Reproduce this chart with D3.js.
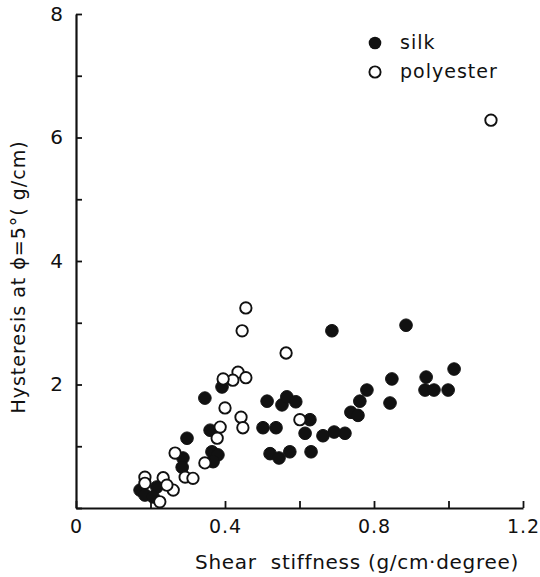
<!DOCTYPE html>
<html>
<head>
<meta charset="utf-8">
<script src="https://cdn.jsdelivr.net/npm/d3@7"></script>
<style>
  html, body { margin: 0; padding: 0; background: #fff; }
  svg { display: block; }
  text { font-family: "DejaVu Sans", sans-serif; fill: #111; }
</style>
</head>
<body>
<svg id="chart" width="540" height="577"></svg>
<script>
// ---- data ----
const silkX = [0.687, 0.886, 1.015, 0.940, 0.937, 0.961, 0.999, 0.848, 0.843, 0.781,
               0.762, 0.738, 0.757, 0.722, 0.693, 0.663, 0.615, 0.628, 0.631, 0.521,
               0.545, 0.574, 0.502, 0.537, 0.513, 0.553, 0.566, 0.590, 0.346, 0.392,
               0.298, 0.287, 0.285, 0.360, 0.365, 0.381, 0.368, 0.172, 0.185, 0.217, 0.207];
const silkY = [2.87, 2.96, 2.25, 2.12, 1.91, 1.91, 1.91, 2.09, 1.70, 1.91,
               1.73, 1.55, 1.50, 1.21, 1.23, 1.17, 1.21, 1.43, 0.91, 0.88,
               0.81, 0.91, 1.30, 1.30, 1.73, 1.67, 1.80, 1.72, 1.78, 1.96,
               1.13, 0.81, 0.66, 1.26, 0.91, 0.86, 0.75, 0.29, 0.21, 0.34, 0.18];
const polyX = [1.114, 0.456, 0.446, 0.564, 0.435, 0.421, 0.456, 0.395, 0.400, 0.443,
               0.448, 0.387, 0.379, 0.346, 0.293, 0.314, 0.266, 0.601, 0.185, 0.185,
               0.234, 0.261, 0.225, 0.244];
const polyY = [6.28, 3.24, 2.87, 2.51, 2.20, 2.07, 2.11, 2.09, 1.62, 1.47,
               1.30, 1.31, 1.13, 0.73, 0.50, 0.48, 0.89, 1.43, 0.50, 0.40,
               0.49, 0.29, 0.10, 0.37];
const xTicks = [0, 0.2, 0.4, 0.6, 0.8, 1.0, 1.2];
const xTickLabels = {0: "0", 0.4: "0.4", 0.8: "0.8", 1.2: "1.2"};
const yTicks = [0, 1, 2, 3, 4, 5, 6, 7, 8];
const yTickLabels = {2: "2", 4: "4", 6: "6", 8: "8"};
const seriesNames = ["silk", "polyester"];
const xTitle = "Shear\u00a0 stiffness (g/cm\u00b7degree)";
const yTitle = "Hysteresis at \u03d5=5\u00b0( g/cm)";

// ---- drawing ----
const svg = d3.select("#chart");
const x = d3.scaleLinear().domain([0, 1.2]).range([76, 523]);
const y = d3.scaleLinear().domain([0, 8]).range([508, 14]);

const FONT = "DejaVu Sans, sans-serif";

const xAxis = d3.axisBottom(x)
  .tickValues(xTicks)
  .tickSize(-7).tickSizeOuter(0).tickPadding(12)
  .tickFormat(d => xTickLabels[Math.round(d * 10) / 10] || "");
const gx = svg.append("g").attr("transform", `translate(0,${y(0)})`).call(xAxis);
gx.select(".domain").attr("stroke", "#111").attr("stroke-width", 2.2);
gx.selectAll(".tick line").attr("stroke", "#111").attr("stroke-width", 1.8);
gx.selectAll(".tick text").attr("font-size", 19).attr("font-family", FONT)
  .attr("fill", "#111").attr("letter-spacing", 1);

const yAxis = d3.axisLeft(y)
  .tickValues(yTicks)
  .tickSize(-6).tickSizeOuter(0).tickPadding(13)
  .tickFormat(d => yTickLabels[d] || "");
const gy = svg.append("g").attr("transform", `translate(${x(0)},0)`).call(yAxis);
gy.select(".domain").attr("stroke", "#111").attr("stroke-width", 2.2);
gy.selectAll(".tick line").attr("stroke", "#111").attr("stroke-width", 1.8);
gy.selectAll(".tick text").attr("font-size", 20).attr("font-family", FONT).attr("fill", "#111");

// axis titles
svg.append("text")
  .attr("x", 357).attr("y", 569)
  .attr("text-anchor", "middle")
  .attr("font-size", 20)
  .attr("letter-spacing", 0.7)
  .text(xTitle);
svg.append("text")
  .attr("transform", `translate(25,${277}) rotate(-90)`)
  .attr("text-anchor", "middle")
  .attr("font-size", 19)
  .attr("letter-spacing", 1)
  .text(yTitle);

const r = 6.3;
const silk = silkX.map((v, i) => ({x: v, y: silkY[i]}));
const poly = polyX.map((v, i) => ({x: v, y: polyY[i]}));

svg.append("g").selectAll("circle").data(silk).join("circle")
  .attr("cx", d => x(d.x)).attr("cy", d => y(d.y)).attr("r", r)
  .attr("fill", "#111").attr("stroke", "#111").attr("stroke-width", 1);

svg.append("g").selectAll("circle").data(poly).join("circle")
  .attr("cx", d => x(d.x)).attr("cy", d => y(d.y)).attr("r", r - 0.6)
  .attr("fill", "#fff").attr("stroke", "#111").attr("stroke-width", 1.9);

// legend
const legend = svg.append("g");
legend.append("circle").attr("cx", 375).attr("cy", 43).attr("r", 6.3).attr("fill", "#111");
legend.append("circle").attr("cx", 375).attr("cy", 72).attr("r", 5.6)
  .attr("fill", "#fff").attr("stroke", "#111").attr("stroke-width", 1.9);
legend.append("text").attr("x", 400).attr("y", 49).attr("font-size", 19)
  .attr("letter-spacing", 1).text(seriesNames[0]);
legend.append("text").attr("x", 400).attr("y", 78).attr("font-size", 19)
  .attr("letter-spacing", 1).text(seriesNames[1]);
</script>
</body>
</html>
